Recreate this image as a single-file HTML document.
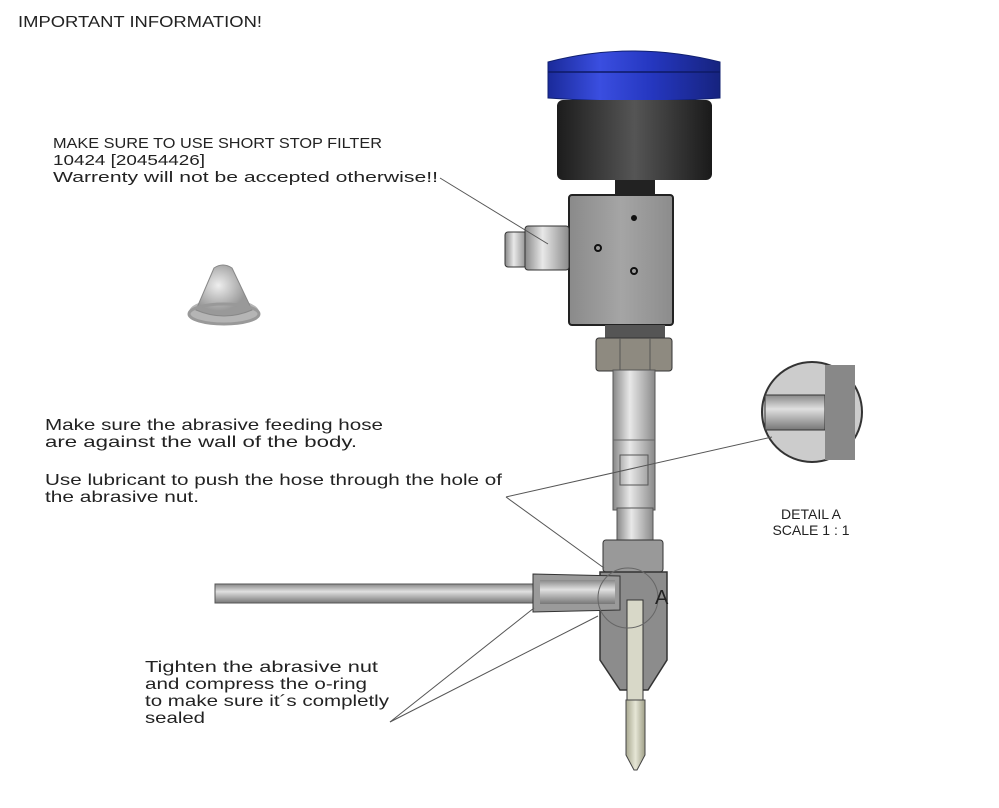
<!DOCTYPE html>
<html><head><style>
body{margin:0;background:#fff;}
svg{display:block;}
text{font-family:"Liberation Sans",sans-serif;fill:#222;}
</style></head><body>
<svg width="999" height="808" viewBox="0 0 999 808" xmlns="http://www.w3.org/2000/svg">
<defs>
<linearGradient id="blue" x1="0" x2="1"><stop offset="0" stop-color="#1a2a9a"/><stop offset="0.3" stop-color="#3a4ee0"/><stop offset="0.6" stop-color="#2537c0"/><stop offset="1" stop-color="#16237f"/></linearGradient>
<linearGradient id="blk" x1="0" x2="1"><stop offset="0" stop-color="#1c1c1c"/><stop offset="0.5" stop-color="#555"/><stop offset="1" stop-color="#1a1a1a"/></linearGradient>
<linearGradient id="gry" x1="0" x2="1"><stop offset="0" stop-color="#8a8a8a"/><stop offset="0.5" stop-color="#a5a5a5"/><stop offset="1" stop-color="#8c8c8c"/></linearGradient>
<linearGradient id="sh" x1="0" x2="1"><stop offset="0" stop-color="#888"/><stop offset="0.4" stop-color="#e8e8e8"/><stop offset="1" stop-color="#8a8a8a"/></linearGradient>
<linearGradient id="hose" x1="0" y1="0" x2="0" y2="1"><stop offset="0" stop-color="#888"/><stop offset="0.4" stop-color="#e0e0e0"/><stop offset="1" stop-color="#777"/></linearGradient>
<linearGradient id="noz" x1="0" x2="1"><stop offset="0" stop-color="#a8a890"/><stop offset="0.5" stop-color="#e6e6d6"/><stop offset="1" stop-color="#a0a088"/></linearGradient>
<radialGradient id="flt" cx="0.4" cy="0.4"><stop offset="0" stop-color="#eee"/><stop offset="1" stop-color="#999"/></radialGradient>
</defs>

<text x="18" y="27" font-size="16" textLength="244" lengthAdjust="spacingAndGlyphs">IMPORTANT INFORMATION!</text>
<text x="53" y="148" font-size="15" textLength="329" lengthAdjust="spacingAndGlyphs">MAKE SURE TO USE SHORT STOP FILTER</text>
<text x="53" y="165" font-size="15" textLength="152" lengthAdjust="spacingAndGlyphs">10424 [20454426]</text>
<text x="53" y="182" font-size="15" textLength="385" lengthAdjust="spacingAndGlyphs">Warrenty will not be accepted otherwise!!</text>
<text x="45" y="430" font-size="16" textLength="338" lengthAdjust="spacingAndGlyphs">Make sure the abrasive feeding hose</text>
<text x="45" y="447" font-size="16" textLength="312" lengthAdjust="spacingAndGlyphs">are against the wall of the body.</text>
<text x="45" y="485" font-size="16" textLength="457" lengthAdjust="spacingAndGlyphs">Use lubricant to push the hose through the hole of</text>
<text x="45" y="502" font-size="16" textLength="154" lengthAdjust="spacingAndGlyphs">the abrasive nut.</text>
<text x="145" y="672" font-size="16" textLength="233" lengthAdjust="spacingAndGlyphs">Tighten the abrasive nut</text>
<text x="145" y="689" font-size="16" textLength="222" lengthAdjust="spacingAndGlyphs">and compress the o-ring</text>
<text x="145" y="706" font-size="16" textLength="244" lengthAdjust="spacingAndGlyphs">to make sure it´s completly</text>
<text x="145" y="723" font-size="16" textLength="60" lengthAdjust="spacingAndGlyphs">sealed</text>
<text x="811" y="519" font-size="14" text-anchor="middle">DETAIL A</text>
<text x="811" y="535" font-size="14" text-anchor="middle">SCALE 1 : 1</text>

<!-- filter -->
<ellipse cx="224" cy="312" rx="35" ry="13" fill="#b5b5b5"/>
<path d="M196 310 L214 268 Q223 262 232 268 L252 310 Q224 322 196 310Z" fill="url(#flt)" stroke="#888"/>
<ellipse cx="224" cy="314" rx="35" ry="10" fill="none" stroke="#999" stroke-width="3"/>

<!-- cap -->
<path d="M548 62 Q632 40 720 62 L720 98 Q634 104 548 98Z" fill="url(#blue)" stroke="#102070"/>
<line x1="548" y1="72" x2="720" y2="72" stroke="#0e1a66" stroke-width="1.5"/>
<rect x="557" y="100" width="155" height="80" rx="6" fill="url(#blk)"/>
<rect x="615" y="180" width="40" height="16" fill="#222"/>
<rect x="569" y="195" width="104" height="130" rx="3" fill="url(#gry)" stroke="#222" stroke-width="2"/>
<circle cx="634" cy="218" r="3" fill="#111"/><circle cx="598" cy="248" r="3" fill="none" stroke="#111" stroke-width="2"/><circle cx="634" cy="271" r="3" fill="none" stroke="#111" stroke-width="2"/>
<rect x="505" y="232" width="22" height="35" rx="3" fill="url(#sh)" stroke="#333"/>
<rect x="525" y="226" width="44" height="44" rx="3" fill="url(#sh)" stroke="#333"/>
<rect x="605" y="325" width="60" height="14" fill="#555"/>
<rect x="596" y="338" width="76" height="33" rx="3" fill="#8e8a80" stroke="#333"/>
<line x1="620" y1="338" x2="620" y2="371" stroke="#555"/><line x1="650" y1="338" x2="650" y2="371" stroke="#555"/>
<!-- shaft -->
<rect x="613" y="370" width="42" height="140" fill="url(#sh)" stroke="#555"/>
<line x1="613" y1="440" x2="655" y2="440" stroke="#666"/>
<rect x="620" y="455" width="28" height="30" fill="none" stroke="#555"/>
<rect x="617" y="508" width="36" height="32" fill="url(#sh)" stroke="#555"/>
<rect x="603" y="540" width="60" height="32" rx="3" fill="#999" stroke="#333"/>
<!-- body -->
<path d="M600 572 L667 572 L667 660 L648 690 L620 690 L600 660Z" fill="#8c8c8c" stroke="#333" stroke-width="1.5"/>
<rect x="627" y="600" width="16" height="110" fill="#d8d8c8" stroke="#333"/>
<path d="M626 700 L645 700 L645 755 L637 770 L634 770 L626 755Z" fill="url(#noz)" stroke="#444"/>
<!-- hose -->
<rect x="215" y="584" width="322" height="19" fill="url(#hose)" stroke="#555"/>
<path d="M533 574 L620 576 L620 610 L533 612Z" fill="#9a9a9a" stroke="#333"/>
<rect x="540" y="580" width="75" height="24" fill="url(#hose)"/>
<circle cx="628" cy="598" r="30" fill="none" stroke="#666"/>
<text x="655" y="604" font-size="20" fill="#222">A</text>
<!-- detail A -->
<circle cx="812" cy="412" r="50" fill="#ccc" stroke="#333" stroke-width="2"/>
<rect x="765" y="395" width="60" height="35" fill="url(#hose)" stroke="#333"/>
<rect x="825" y="365" width="30" height="95" fill="#888"/>
<!-- leaders -->
<g stroke="#555" stroke-width="1" fill="none">
<line x1="440" y1="178" x2="548" y2="244"/>
<line x1="506" y1="497" x2="772" y2="437"/>
<line x1="506" y1="497" x2="604" y2="568"/>
<line x1="390" y1="722" x2="534" y2="608"/>
<line x1="390" y1="722" x2="598" y2="616"/>
</g>
</svg>
</body></html>
